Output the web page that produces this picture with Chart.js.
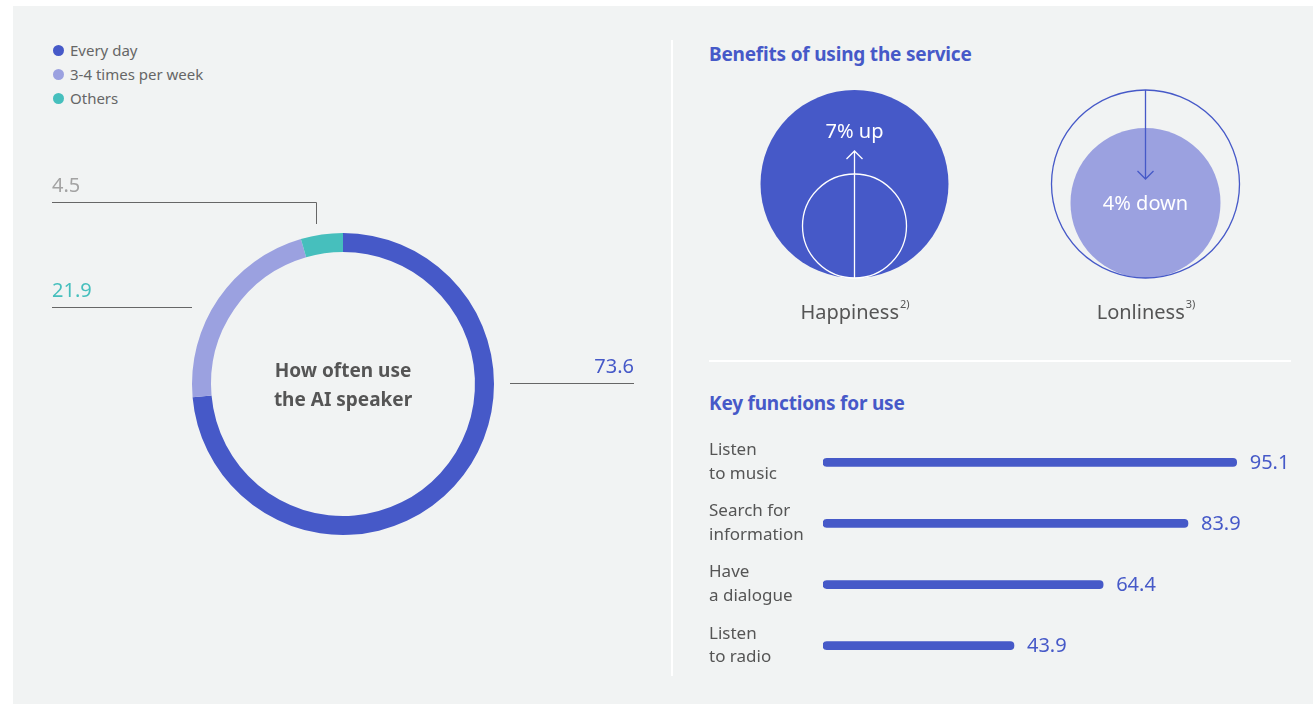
<!DOCTYPE html>
<html>
<head>
<meta charset="utf-8">
<script src="https://cdn.jsdelivr.net/npm/chart.js@4.4.1/dist/chart.umd.min.js"></script>
<style>
html,body{margin:0;padding:0;background:#fff;}
body{width:1313px;height:704px;position:relative;overflow:hidden;font-family:"Noto Sans",sans-serif;}
#panel{position:absolute;left:13px;top:6px;right:0;bottom:0;background:#f1f3f3;}
.vline{position:absolute;left:671px;top:40px;width:2px;height:636px;background:#fff;}
.hline{position:absolute;left:709px;top:360px;width:582px;height:2px;background:#fff;}
.legend{position:absolute;left:53px;top:38px;font-size:15px;color:#666;line-height:24px;}
.legend div{position:relative;padding-left:17px;}
.legend span{position:absolute;left:0;top:7px;width:11px;height:11px;border-radius:50%;}
.title{position:absolute;left:709px;font-size:19px;font-weight:bold;color:#4659c8;letter-spacing:-0.2px;}
canvas{position:absolute;}
</style>
</head>
<body>
<div id="panel"></div>
<div class="vline"></div>
<div class="hline"></div>
<div class="legend" id="legend"></div>
<div class="title" style="top:41px">Benefits of using the service</div>
<div class="title" style="top:390px">Key functions for use</div>
<canvas id="donut" style="left:0;top:0" width="672" height="704"></canvas>
<canvas id="benefit" style="left:709px;top:80px" width="582" height="250"></canvas>
<canvas id="bars" style="left:709px;top:408px" width="600" height="292"></canvas>
<script>
// usage frequency
const freqLabels = ['Every day', '3-4 times per week', 'Others'];
const freqValues = [73.6, 21.9, 4.5];
const freqColors = ['#4659c8', '#9ba1e0', '#46bfbd'];

// benefits (% change)
const benefitLabels = ['Happiness', 'Lonliness'];
const benefitNotes = ['2)', '3)'];
const benefitChange = [7, -4];

// key functions
const funcLabels = [['Listen', 'to music'], ['Search for', 'information'], ['Have', 'a dialogue'], ['Listen', 'to radio']];
const funcValues = [95.1, 83.9, 64.4, 43.9];

const BLUE = '#4659c8';
const LIGHT = '#9ba1e0';
const FONT = '"Noto Sans", sans-serif';

Chart.defaults.font.family = FONT;
Chart.defaults.animation = false;

// legend
const lg = document.getElementById('legend');
freqLabels.forEach((l, i) => {
  const d = document.createElement('div');
  d.innerHTML = '<span style="background:' + freqColors[i] + '"></span>' + l;
  lg.appendChild(d);
});

// donut callouts + center text
const donutDeco = {
  id: 'donutDeco',
  afterDraw(chart) {
    const c = chart.ctx;
    const arcs = chart.getDatasetMeta(0).data;
    const cx = arcs[0].x, cy = arcs[0].y, R = arcs[0].outerRadius;
    c.save();
    c.strokeStyle = '#666';
    c.lineWidth = 1;
    c.font = '20px ' + FONT;
    c.textBaseline = 'alphabetic';

    // every day -> right
    c.beginPath();
    c.moveTo(cx + R + 16, cy - 0.5);
    c.lineTo(cx + R + 140, cy - 0.5);
    c.stroke();
    c.fillStyle = freqColors[0];
    c.textAlign = 'right';
    c.fillText(freqValues[0].toFixed(1), cx + R + 140, cy - 11);

    // 3-4 times -> left
    c.beginPath();
    c.moveTo(52, cy - 76.5);
    c.lineTo(cx - R, cy - 76.5);
    c.stroke();
    c.fillStyle = freqColors[2];
    c.textAlign = 'left';
    c.fillText(freqValues[1].toFixed(1), 52, cy - 87);

    // others -> up and left
    const a = arcs[2];
    const mid = (a.startAngle + a.endAngle) / 2;
    const px = Math.round(cx + Math.cos(mid) * R) - 5.5;
    c.beginPath();
    c.moveTo(px, cy - R - 9);
    c.lineTo(px, cy - R - 30.5);
    c.lineTo(52, cy - R - 30.5);
    c.stroke();
    c.fillStyle = '#a3a3a3';
    c.fillText(freqValues[2].toFixed(1), 52, cy - R - 41);

    // center title
    c.fillStyle = '#555';
    c.textAlign = 'center';
    c.font = 'bold 19px ' + FONT;
    c.fillText('How often use', cx, cy - 7);
    c.fillText('the AI speaker', cx, cy + 22);
    c.restore();
  }
};

new Chart(document.getElementById('donut'), {
  type: 'doughnut',
  data: {
    labels: freqLabels,
    datasets: [{ data: freqValues, backgroundColor: freqColors, borderWidth: 0 }]
  },
  options: {
    responsive: false,
    cutout: '87.4%',
    layout: { padding: { left: 192, top: 233, right: 178, bottom: 169 } },
    plugins: { legend: { display: false }, tooltip: { enabled: false } }
  },
  plugins: [donutDeco]
});

// benefits: big circle = overall, small circle = before/after
const BIG = 94;
const SMALL_UP = 52;
const SMALL_DOWN = 75;
const BASE = 104;
const filled = [], outline = [];
benefitLabels.forEach((l, i) => {
  const up = benefitChange[i] > 0;
  const small = up ? SMALL_UP : SMALL_DOWN;
  const big = { x: l, y: BASE, r: BIG };
  const sm = { x: l, y: BASE + BIG - small, r: small };
  if (up) { filled.push(big); outline.push(sm); }
  else { outline.push(big); filled.push(sm); }
});

const benefitDeco = {
  id: 'benefitDeco',
  afterDraw(chart) {
    const c = chart.ctx;
    const f = chart.getDatasetMeta(0).data;
    const o = chart.getDatasetMeta(1).data;
    c.save();
    c.lineWidth = 1.3;
    c.textAlign = 'center';
    benefitLabels.forEach((l, i) => {
      const up = benefitChange[i] > 0;
      const big = up ? f[i] : o[i];
      const sm = up ? o[i] : f[i];
      const x = big.x;
      const col = up ? '#fff' : BLUE;
      c.strokeStyle = col;
      c.beginPath();
      if (up) {
        const tip = big.y - 33;
        c.moveTo(x, big.y + BIG);
        c.lineTo(x, tip);
        c.moveTo(x - 8, tip + 8);
        c.lineTo(x, tip);
        c.lineTo(x + 8, tip + 8);
      } else {
        const tip = big.y - 5;
        c.moveTo(x, big.y - BIG);
        c.lineTo(x, tip);
        c.moveTo(x - 8, tip - 8);
        c.lineTo(x, tip);
        c.lineTo(x + 8, tip - 8);
      }
      c.stroke();
      c.fillStyle = '#fff';
      c.font = '20px ' + FONT;
      const txt = Math.abs(benefitChange[i]) + '% ' + (up ? 'up' : 'down');
      c.textBaseline = 'middle';
      c.fillText(txt, x, up ? big.y - 52 : sm.y + 1);
      // axis label with note
      c.fillStyle = '#555';
      c.textBaseline = 'alphabetic';
      c.font = '20px ' + FONT;
      const w = c.measureText(l).width;
      c.font = '11px ' + FONT;
      const wn = c.measureText(benefitNotes[i]).width;
      const x0 = x - (w + wn) / 2;
      c.textAlign = 'left';
      c.font = '20px ' + FONT;
      c.fillText(l, x0, 239);
      c.font = '11px ' + FONT;
      c.fillText(benefitNotes[i], x0 + w + 1, 228);
      c.textAlign = 'center';
    });
    c.restore();
  }
};

new Chart(document.getElementById('benefit'), {
  type: 'bubble',
  data: {
    labels: benefitLabels,
    datasets: [
      { data: filled, backgroundColor: [BLUE, LIGHT], borderWidth: 0, clip: false, order: 1 },
      { data: outline, backgroundColor: 'rgba(0,0,0,0)', borderColor: ['#fff', BLUE], borderWidth: 1.3, clip: false, order: 0 }
    ]
  },
  options: {
    responsive: false,
    layout: { padding: 0, autoPadding: false },
    scales: {
      x: { type: 'category', offset: true, display: false },
      y: { min: 0, max: 250, reverse: true, display: false }
    },
    plugins: { legend: { display: false }, tooltip: { enabled: false } }
  },
  plugins: [benefitDeco]
});

// key functions bar chart
const valueLabels = {
  id: 'valueLabels',
  afterDatasetsDraw(chart) {
    const c = chart.ctx;
    c.save();
    c.fillStyle = BLUE;
    c.font = '20px ' + FONT;
    c.textBaseline = 'middle';
    chart.getDatasetMeta(0).data.forEach((b, i) => {
      c.fillText(funcValues[i].toFixed(1), b.x + 13, b.y + 1);
    });
    c.restore();
  }
};

new Chart(document.getElementById('bars'), {
  type: 'bar',
  data: {
    labels: funcLabels,
    datasets: [{
      data: funcValues,
      backgroundColor: BLUE,
      barThickness: 8,
      borderRadius: 4,
      borderSkipped: false
    }]
  },
  options: {
    responsive: false,
    indexAxis: 'y',
    layout: { padding: { right: 51 } },
    scales: {
      x: { min: 0, max: 100, display: false },
      y: {
        grid: { display: false },
        border: { display: false },
        ticks: { crossAlign: 'far', color: '#555', font: { size: 17, lineHeight: 1.4 }, padding: 0 },
        afterFit(s) { s.width = 114; }
      }
    },
    plugins: { legend: { display: false }, tooltip: { enabled: false } }
  },
  plugins: [valueLabels]
});
</script>
</body>
</html>
